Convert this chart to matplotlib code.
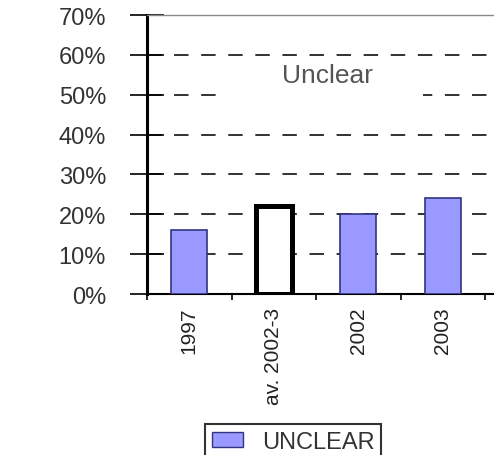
import matplotlib
matplotlib.use("Agg")
import matplotlib.pyplot as plt
from matplotlib.ticker import PercentFormatter, FixedLocator
from matplotlib.patches import Rectangle, Patch

categories = ["1997", "av. 2002-3", "2002", "2003"]
values = [0.16, 0.22, 0.20, 0.24]
highlight = [False, True, False, False]
yticks = [0, 0.1, 0.2, 0.3, 0.4, 0.5, 0.6, 0.7]
legend_label = "UNCLEAR"
panel_title = "Unclear"

plt.rcParams['font.family'] = ['Liberation Sans', 'DejaVu Sans']
W, H = 494, 456
fig = plt.figure(figsize=(W / 100, H / 100), dpi=100)
left_px, right_px, top_px, bot_px = 147, 505, 16, 295
ax = fig.add_axes([left_px / W, (H - bot_px) / H, (right_px - left_px) / W, (bot_px - top_px) / H])

bar_fill = "#9999FF"
for i, (v, h) in enumerate(zip(values, highlight)):
    if h:
        ax.bar(i, v, width=0.43, color="white", edgecolor="black", linewidth=3.6, zorder=3)
    else:
        ax.bar(i, v, width=0.43, color=bar_fill, edgecolor="#333380", linewidth=1.2, zorder=3)

px_per_unit = (485 - 147) / 4
ax.set_xlim(-0.5, -0.5 + (right_px - left_px) / px_per_unit)
ax.set_ylim(0, 0.7)

ax.set_yticks(yticks)
ax.yaxis.set_major_formatter(PercentFormatter(1.0, decimals=0))
ax.tick_params(axis='y', direction='inout', length=25, width=1.2, labelsize=17,
               pad=17, colors='black', labelcolor='#333333')

ax.set_xticks(range(len(categories)))
ax.set_xticklabels(categories, rotation=90, fontsize=15, color='#222222')
ax.tick_params(axis='x', which='major', length=0, pad=9)
ax.xaxis.set_minor_locator(FixedLocator([-0.5 + k for k in range(5)]))
ax.tick_params(axis='x', which='minor', direction='out', length=4.5, width=1.2)

for y in yticks[1:-1]:
    ax.axhline(y, color='#222222', linewidth=1.3, linestyle=(0, (8, 7)), zorder=1)

ax.spines['left'].set_linewidth(2.2)
ax.spines['bottom'].set_linewidth(1.5)
ax.spines['top'].set_color('#888888')
ax.spines['top'].set_linewidth(1.0)
ax.spines['right'].set_visible(False)

ax.add_patch(Rectangle((0.22, 0.59), 0.55, 0.14, transform=ax.transAxes,
                       facecolor='white', edgecolor='none', zorder=2))
ax.text(0.505, 0.785, panel_title, transform=ax.transAxes, ha='center', va='center',
        fontsize=19, color='#555555', zorder=4)

handle = Patch(facecolor=bar_fill, edgecolor='#333380', linewidth=1.0)
leg = fig.legend([handle], [legend_label], loc='upper left',
                 bbox_to_anchor=(205 / W, 1 - 425 / H), fontsize=17,
                 frameon=True, fancybox=False, borderpad=0.3, handlelength=1.3,
                 handleheight=0.6, handletextpad=0.8, borderaxespad=0)
leg.get_frame().set_edgecolor('black')
leg.get_frame().set_linewidth(1.5)
for t in leg.get_texts():
    t.set_color('#333333')

fig.savefig("out.png", dpi=100)
